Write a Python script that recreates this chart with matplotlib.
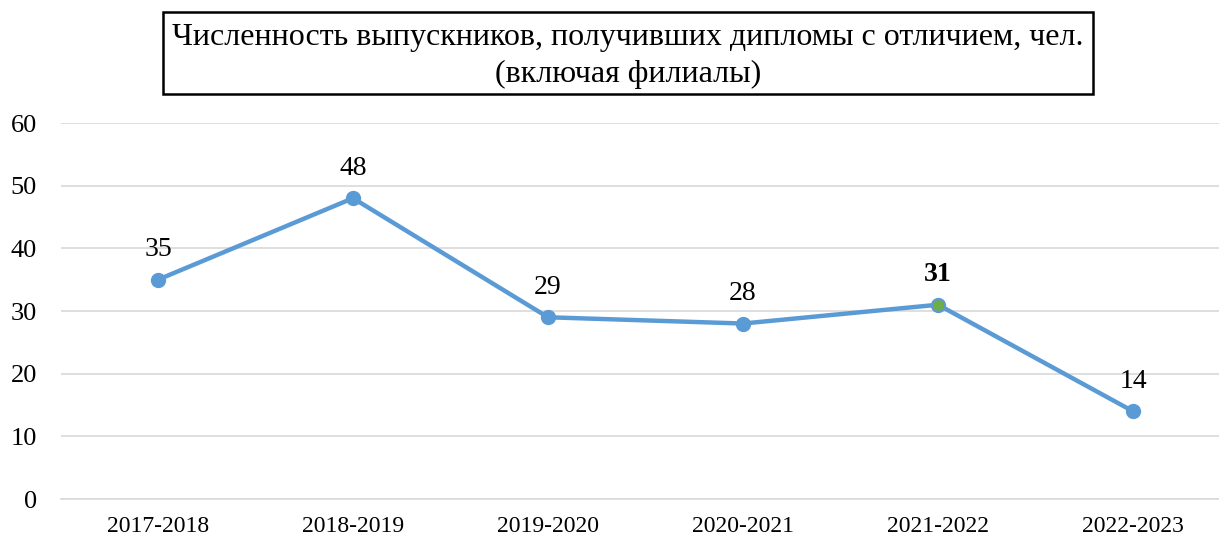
import matplotlib
matplotlib.use('Agg')
import matplotlib.pyplot as plt
from matplotlib.patches import Rectangle

plt.rcParams['font.family'] = ['Liberation Serif', 'DejaVu Serif']

# data
years = ['2017-2018', '2018-2019', '2019-2020', '2020-2021', '2021-2022', '2022-2023']
graduates = [35, 48, 29, 28, 31, 14]
highlight_idx = 4  # 2021-2022 point drawn green, label bold
y_ticks = [0, 10, 20, 30, 40, 50, 60]
title = 'Численность выпускников, получивших дипломы с отличием, чел.\n(включая филиалы)'

BLUE = '#5B9BD5'
GREEN = '#70AD47'
GRID = '#D9D9D9'

W, H = 1219, 540
fig = plt.figure(figsize=(W / 100, H / 100), dpi=100)
ax = fig.add_axes([60.5 / W, 41 / H, 1 - 60.5 / W, 376 / H])

x = list(range(len(years)))
ax.plot(x, graduates, color=BLUE, lw=3.2, marker='o', ms=10, mfc=BLUE, mec=BLUE,
        solid_capstyle='round', zorder=3)
ax.plot(x[highlight_idx], graduates[highlight_idx], 'o', ms=8.5, color=GREEN,
        mec=BLUE, mew=0.8, zorder=4)

for i, v in enumerate(graduates):
    ax.annotate(str(v), (i, v), xytext=(0, 17), textcoords='offset points',
                ha='center', va='baseline', fontsize=20,
                fontweight='bold' if i == highlight_idx else 'normal')

ax.set_xlim(-0.5, -0.5 + (W - 60.5) / 195)
ax.set_ylim(0, 60)
ax.set_yticks(y_ticks)
ax.set_xticks(x)
ax.set_xticklabels(years)
ax.tick_params(axis='y', labelsize=19, length=0, pad=17)
ax.tick_params(axis='x', labelsize=17, length=0, pad=12)
ax.grid(axis='y', color=GRID, lw=1.2)
ax.set_axisbelow(True)
for s in ['top', 'right', 'left']:
    ax.spines[s].set_visible(False)
ax.spines['bottom'].set_color(GRID)
ax.spines['bottom'].set_linewidth(1.2)

# title box
fig.patches.append(Rectangle((163 / W, 1 - 94 / H), (1093 - 163) / W, (94 - 12) / H,
                             transform=fig.transFigure, fill=False, ec='black', lw=1.8))
fig.text(628 / W, 1 - 56 / H, title, ha='center', va='center', fontsize=23,
         linespacing=1.35)

fig.savefig('out.png', dpi=100, facecolor='white')
